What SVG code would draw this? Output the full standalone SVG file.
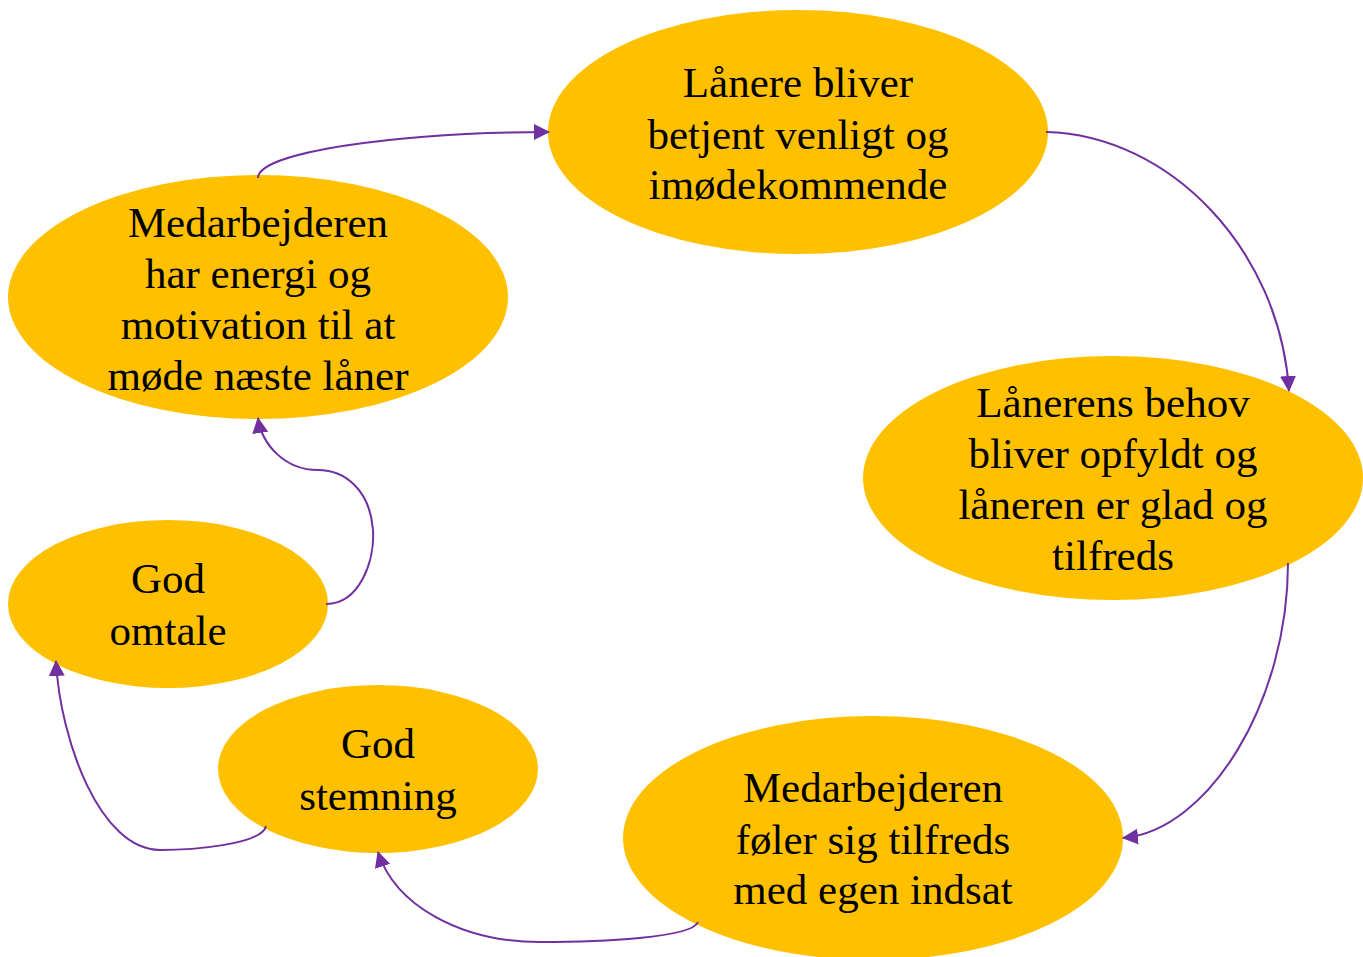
<svg xmlns="http://www.w3.org/2000/svg" width="1363" height="957" viewBox="0 0 1363 957">
<defs>
<style>
.n{fill:#FFC000;}
.t{font-family:"Liberation Serif","Times New Roman",serif;font-size:43px;fill:#000;text-anchor:middle;}
.c{fill:none;stroke:#7030A0;stroke-width:2;}
</style>
<marker id="a" markerWidth="16" markerHeight="16" refX="15" refY="8" orient="auto" markerUnits="userSpaceOnUse">
<path d="M0,0 L16,8 L0,16 z" fill="#7030A0"/>
</marker>
</defs>
<rect width="1363" height="957" fill="#fff"/>
<g id="n1"><ellipse class="n" cx="798" cy="132" rx="250" ry="122"/>
<text class="t"><tspan x="798" y="97">Lånere bliver</tspan><tspan x="798" y="149">betjent venligt og</tspan><tspan x="798" y="199">imødekommende</tspan></text></g>
<g id="n2"><ellipse class="n" cx="1113" cy="478" rx="250" ry="122"/>
<text class="t"><tspan x="1113" y="417">Lånerens behov</tspan><tspan x="1113" y="468">bliver opfyldt og</tspan><tspan x="1113" y="519">låneren er glad og</tspan><tspan x="1113" y="570">tilfreds</tspan></text></g>
<g id="n3"><ellipse class="n" cx="873" cy="838" rx="250" ry="122"/>
<text class="t"><tspan x="873" y="802">Medarbejderen</tspan><tspan x="873" y="854">føler sig tilfreds</tspan><tspan x="873" y="904">med egen indsat</tspan></text></g>
<g id="n4"><ellipse class="n" cx="378" cy="769" rx="160" ry="84"/>
<text class="t"><tspan x="378" y="758">God</tspan><tspan x="378" y="810">stemning</tspan></text></g>
<g id="n5"><ellipse class="n" cx="168" cy="604" rx="160" ry="84"/>
<text class="t"><tspan x="168" y="593">God</tspan><tspan x="168" y="645">omtale</tspan></text></g>
<g id="n6"><ellipse class="n" cx="258" cy="297" rx="250" ry="122"/>
<text class="t"><tspan x="258" y="237">Medarbejderen</tspan><tspan x="258" y="288">har energi og</tspan><tspan x="258" y="339">motivation til at</tspan><tspan x="258" y="390">møde næste låner</tspan></text></g>
<g id="connectors">
<path class="c" marker-end="url(#a)" d="M258,178 C258,152 400,132 549,132"/>
<path class="c" marker-end="url(#a)" d="M1046,132 C1170,135 1280,250 1289,391"/>
<path class="c" marker-end="url(#a)" d="M1288,563 C1288,700 1210,830 1123,838"/>
<path class="c" marker-end="url(#a)" d="M698,922 C692,938 600,942 540,942 C460,942 395,905 378,852"/>
<path class="c" marker-end="url(#a)" d="M266,826 C262,845 190,850 160,850 C100,850 60,740 56,661"/>
<path class="c" marker-end="url(#a)" d="M326,604 C360,604 375,560 373,530 C370,490 345,470 318,470 C285,470 262,445 258,418"/>
</g>
</svg>
